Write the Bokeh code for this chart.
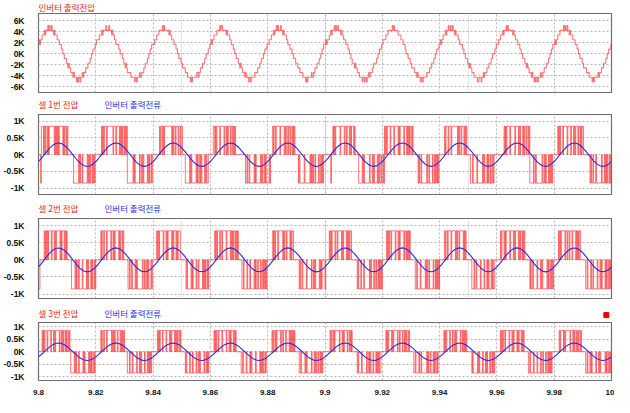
from bokeh.plotting import figure
from bokeh.models import Range1d, FixedTicker, Grid, Label
from bokeh.layouts import column
from bokeh.embed import file_html
from bokeh.resources import INLINE

# ---------------- data ----------------
T_START = 9.8          # s, left edge of the record
PERIOD = 0.02          # s, one fundamental cycle (50 Hz)
DT = 0.00025           # s, sample step inside each cycle string
CELL_V = 850           # V per voltage level (cell DC voltage)

X_TICKS = [9.8, 9.82, 9.84, 9.86, 9.88, 9.9, 9.92, 9.94, 9.96, 9.98, 10.0]
X_LABELS = ["9.8", "9.82", "9.84", "9.86", "9.88", "9.9", "9.92", "9.94", "9.96", "9.98", "10"]
OUT_TICKS = [-6000, -4000, -2000, 0, 2000, 4000, 6000]
OUT_LABELS = ["-6K", "-4K", "-2K", "0K", "2K", "4K", "6K"]
CELL_TICKS = [-1000, -500, 0, 500, 1000]
CELL_LABELS = ["-1K", "-0.5K", "0K", "0.5K", "1K"]

TITLE_VOUT = "인버터 출력전압"
TITLE_CELLS = ["셀 1번 전압", "셀 2번 전압", "셀 3번 전압"]
TITLE_IOUT = "인버터 출력전류"

# inverter output voltage level per sample ('f'..'a' = -6..-1, '0'..'6' = 0..6)
OUT_LEVEL_CODE = "fedcba0123456"
VOUT_PERIODS = [
    "2323344454 5556565565 5454443332 221100aaab bcbccddded eeefefeefe ededddcccb bbaa001112",
    "2333344454 5555655565 5545443322 2211000aab bcbcddddde eeeefeefee edeedddccb bbaa001122",
    "2233344455 5556565555 5545443332 221100aaab bccccdddee eefefeeeee eddeddcccb bbaa000112",
    "2323344445 5556566555 5545444332 221100aaab bcbccddded eeefeefeee eeddddcccb baaa001112",
    "2233344454 5565655565 5454443322 211100aaab bbcccdddde eeefefeeee edeeddcccb bbaa001122",
    "2323334454 5556565565 5545443332 221100aabb bcbccdddee eefeefeefe ededddccbb bbaa001112",
    "2333344455 5555656555 5544443332 221000aaab bccccddded eeefeefeee eeddddcccb bbaa001112",
    "2323344454 5565565565 5454443322 221100aaab bcbccdddee eeeffeeefe ededddcccb bbaa000112",
    "2233344454 5556565555 5545443332 221100aaab bcbccddded eefefeefee edeeddcccb bbaa001122",
    "2323344455 5556565565 5454443332 221100aaab bccccdddde eeefefeeee ededddcccb bbaa001112",
]

# cell voltage state per sample ('+' = +1, '0' = 0, '-' = -1)
CELL_CODE = {"+": 1, "0": 0, "-": -1}
CELL1_PERIODS = [
    "000-+++0+0 ++0+0+++++ ++0+0+0+0+ ++++0+0++0 +00000000- ------0-0- -0------0- 0-0--0-0-0",
    "00000000+0 +0+++0++++ ++++0+++0+ +++0+0+0++ 0+0+------ --0-0----- -0--0-0--- --0-0--0-0",
    "000000000+ 0++0+0++++ ++++++0+0+ +0+++0++0+ +0000----- -0-0------ 0-0--0-0-- --0-0--000",
    "0000++0+0+ +++0+++++0 ++0+0+++0+ +0+0+00000 000000000- -0--0----- -0-0------ 0-0--0-0--",
    "--0-000+0+ +0+++++0++ +++0+0++0+ +0++0+0+00 000-0----- -0-------0 -0-0--0--- -0--0-0-00",
    "00000000-0 0+0+0+++++ +0+++++0++ 0+++0+0+++ 0+00000--- --0-0----- --0---0-0- ---0-0--0-",
    "-0-+0+0+++ +0++++0+++ ++0+0+++++ 0+++0+0+0+ +0+0000000 -0--0----- --0--0---- 0--0-0-0-0",
    "0000000+0+ ++0+++0+++ +++++0+0++ 0+++0+0+00 000---0--- --0------- 0-0---0-0- -0--0-0000",
    "0000000000 +0+0++++0+ +++++0++++ 0+0+++0+0+ +0++0+---- -0--0----- ---0--0-0- --0-0-0-00",
    "00000+0+0+ ++0+++++0+ +++0+++0+0 +++0++0+0+ +000000000 -0--0---0- ------0--- 0-0-0--0-0",
]
CELL2_PERIODS = [
    "--000000+0 +0+0++++0+ ++0+0+++++ 0+0+++0+0+ 000000---- -0-0--0--- -0-----0-0 ---0-0--0-",
    "0000000+0+ +0+++0++++ +0++0+0+++ ++0+0++0+0 00000--0-- 0----0-0-- -----0--0- -0-0---0-0",
    "00000+0+0+ ++++0+++0+ 0+++++0+0+ ++0+0+++00 000000-0-- ---0-0---- 0--0-----0 -0-0--0-00",
    "000000+0+0 +++0++0+++ ++0+++++0+ 0+0++0+0+0 0000--0--- -0---0---- -0-0--0--- 0--0-0-0-0",
    "0000000+0+ 0+++0+++++ +0+0++0+++ +0+0++0000 0000-0--0- ----0----- -0--0-0--- --0-0-0000",
    "-00000+0+0 ++++0++0++ +++0+0++++ 0+0+0++000 00000-0--- 0---0----- --0-0---0- -0--0-0-0-",
    "000000+0+0 ++0+++++0+ ++0+0+++++ 0++0+0+0+0 000000--0- ---0------ 0-0--0---- -0--0-0-0-",
    "0000000+0+ +0++++0+++ ++0+0++0++ +++0+0+000 00000---0- -0-----0-- --0---0-0- --0-0--000",
    "00000+0+++ 0+0+++++0+ +++0+0++++ 0+0++0+0+0 000000-0-- 0-----0--- -0-0------ 0-0--0-0-0",
    "000000+0+0 +++++0++0+ +0+++0++++ 0+0+0++000 0000--0--- -0--0----- 0---0-0--- -0-0--0-0-",
]
CELL3_PERIODS = [
    "00000+0+0+ ++0++++0++ +0+0+++++0 ++0+0++0+0 ++0+0----- 0-0---0--- --0-0----- 0-0-0--0-0",
    "0000000+0+ +0+++0++++ ++0+0+0+++ 0+++0+0+0+ 0000---0-- -0-----0-- -0-0----0- --0-0-0-00",
    "000000+0+0 +++0++++0+ +++0+0++++ 0+0+0++0+0 00000-0--- -0---0---- 0--0-0---- -0--0-0-00",
    "00000+0+0+ +0++++0+++ ++0+++0+0+ ++0+0+0000 000--0---- 0----0-0-- ---0-----0 -0-0--0-00",
    "000000+0++ 0+0+++++0+ +0+++0++++ 0+0+0+0+00 0000--0--- --0-0----- -0---0-0-- 0--0-0-000",
    "0000000+0+ +0+0++++++ 0+++0+0+++ +0++0+0+00 00000-0--- -0------0- -0-0---0-- -0-0-0--00",
    "00000+0+0+ +++0+0++++ +0++0+++0+ +0+0++0+00 0000--0--- -0--0----- --0-0--0-- -0-0--0-00",
    "000000+0+0 ++++0+++0+ +0+0+++++0 ++0+0+0+00 00000-0--- ---0-0---- 0---0-0--- 0--0-0-000",
    "00000+0+0+ +0+++++0++ +0+0++++0+ 0+++0+0+00 0000--0--- -0----0--- -0--0---0- -0-0-0-000",
    "0000000+0+ +++0+0++++ ++0+++0+0+ +0+0++0+00 0000--0--- 0-0-----0- --0-0----- -0-0--0-0-",
]

# inverter output current, read every 1 ms
CURRENT_DT = 0.001
CURRENT = [
    -205, -110, -2, 106, 205, 284, 332, 349, 334, 282, 207, 108, 1, -107, -205, -283, -333, -351, -332, -284,
    -206, -108, 0, 107, 206, 283, 334, 351, 333, 283, 205, 109, 0, -108, -207, -282, -334, -350, -333, -283,
    -207, -109, 1, 108, 205, 282, 333, 350, 332, 284, 206, 107, -1, -109, -206, -284, -332, -349, -334, -282,
    -205, -107, 0, 109, 207, 284, 333, 351, 334, 282, 206, 108, 0, -107, -205, -283, -333, -350, -332, -283,
    -206, -108, -1, 107, 206, 283, 332, 350, 333, 283, 207, 109, 1, -108, -206, -282, -334, -351, -333, -284,
    -207, -109, 0, 108, 205, 282, 334, 349, 332, 284, 205, 107, 0, -109, -207, -284, -332, -350, -334, -282,
    -205, -108, 1, 107, 206, 284, 333, 350, 334, 282, 206, 108, -1, -107, -205, -283, -333, -349, -332, -283,
    -206, -107, 0, 109, 207, 283, 332, 351, 333, 283, 207, 109, 0, -108, -206, -282, -334, -350, -333, -284,
    -207, -109, -1, 108, 205, 282, 334, 350, 332, 284, 205, 107, 1, -109, -207, -284, -333, -351, -334, -282,
    -205, -108, 0, 107, 206, 284, 333, 349, 334, 282, 206, 108, 0, -107, -205, -283, -332, -350, -332, -283,
    -206,
]

# position of the small cursor marker in the last title strip (fraction of the strip)
MARKER_POS = (0.991, 0.38)

# ---------------- build ----------------
RED = "#ff1a1a"
BLUE = "#2a2ae6"
FONT_KR = "Noto Sans CJK KR"
FONT_TICK = "Liberation Sans"
W = 614
LEFT, RIGHT = 29, 3


def decode(periods, mapper):
    xs, ys = [], []
    for p, s in enumerate(periods):
        s = s.replace(" ", "")
        for i, c in enumerate(s):
            xs.append(T_START + p * PERIOD + i * DT)
            ys.append(mapper(c) * CELL_V)
    xs.append(T_START + len(periods) * PERIOD)
    ys.append(ys[-1])
    return xs, ys


def make_strip(height, items, mid, marker=False):
    """A thin figure that only holds the coloured panel titles."""
    s = figure(width=W, height=height, output_backend="svg", toolbar_location=None,
               x_axis_location=None, y_axis_location=None,
               x_range=Range1d(0, 1), y_range=Range1d(0, 1),
               min_border_left=LEFT, min_border_right=RIGHT,
               min_border_top=0, min_border_bottom=0)
    s.outline_line_color = None
    s.grid.visible = False
    for text, color, xoff in items:
        s.add_layout(Label(x=xoff, y=mid, x_units="screen", y_units="screen",
                           text=text, text_color=color, text_font=FONT_KR,
                           text_font_size="8.5px", text_baseline="middle", text_align="left"))
    if marker:
        s.scatter([MARKER_POS[0]], [MARKER_POS[1]], marker="square", size=5,
                  fill_color="#ee0000", line_color="#ee0000")
    return s


def make_fig(height, bottom, yr, yticks, ylabels, show_x):
    p = figure(width=W, height=height, output_backend="svg", toolbar_location=None,
               x_range=Range1d(T_START, 10.0), y_range=Range1d(*yr),
               x_axis_location="below" if show_x else None,
               min_border_left=LEFT, min_border_right=RIGHT,
               min_border_top=1, min_border_bottom=bottom)
    p.outline_line_color = "#6e6e6e"
    p.outline_line_width = 1.2
    ya = p.yaxis[0]
    ya.ticker = FixedTicker(ticks=yticks)
    ya.major_label_overrides = dict(zip(yticks, ylabels))
    ya.axis_line_color = None
    ya.major_tick_line_color = None
    ya.minor_tick_line_color = None
    ya.major_label_standoff = 8
    ya.major_label_text_font = FONT_TICK
    ya.major_label_text_font_style = "bold"
    ya.major_label_text_font_size = "8.5px"
    ya.major_label_text_color = "#111111"
    p.ygrid.grid_line_color = "#b8b8b8"
    p.ygrid.grid_line_dash = "2 2"
    if show_x:
        xa = p.xaxis[0]
        xa.ticker = FixedTicker(ticks=X_TICKS)
        xa.major_label_overrides = dict(zip(X_TICKS, X_LABELS))
        xa.axis_line_color = None
        xa.major_tick_line_color = None
        xa.minor_tick_line_color = None
        xa.major_label_standoff = 3
        xa.major_label_text_font = FONT_TICK
        xa.major_label_text_font_style = "bold"
        xa.major_label_text_font_size = "8px"
        xa.major_label_text_color = "#111111"
        p.xgrid.grid_line_color = "#b8b8b8"
        p.xgrid.grid_line_dash = "2 2"
    else:
        p.add_layout(Grid(dimension=0, ticker=FixedTicker(ticks=X_TICKS),
                          grid_line_color="#b8b8b8", grid_line_dash="2 2"))
    return p


rows = []

# panel 1: output voltage
rows.append(make_strip(12, [(TITLE_VOUT, RED, 0)], 6))
f1 = make_fig(84, 4, (-7000, 7300), OUT_TICKS, OUT_LABELS, False)
vx, vy = decode(VOUT_PERIODS, lambda c: OUT_LEVEL_CODE.index(c) - 6)
f1.step(vx, vy, mode="after", line_color=RED, line_alpha=0.6, line_width=1.1)
rows.append(f1)

cur_x = [T_START + k * CURRENT_DT for k in range(len(CURRENT))]

specs = [
    (17, 10, 87, 6, (-1190, 1200), CELL1_PERIODS, False),
    (17, 10, 87, 6, (-1130, 1210), CELL2_PERIODS, False),
    (17, 9, 76, 12, (-1150, 1170), CELL3_PERIODS, True),
]
for idx, (sh, mid, h, bot, yr, periods, show_x) in enumerate(specs):
    rows.append(make_strip(sh, [(TITLE_CELLS[idx], RED, 0), (TITLE_IOUT, BLUE, 66)], mid,
                           marker=show_x))
    f = make_fig(h, bot, yr, CELL_TICKS, CELL_LABELS, show_x)
    cx, cy = decode(periods, lambda c: CELL_CODE[c])
    f.step(cx, cy, mode="after", line_color=RED, line_alpha=0.6, line_width=1)
    f.line(cur_x, CURRENT, line_color=BLUE, line_width=1.1)
    rows.append(f)

layout = column(*rows, spacing=0)
open("out.html", "w").write(file_html(layout, INLINE))
